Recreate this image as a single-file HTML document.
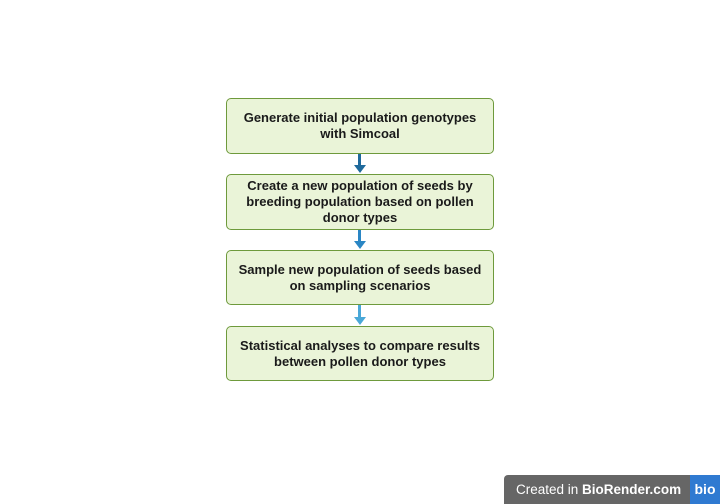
<html><head><style>
body{margin:0;width:720px;height:504px;background:#fff;position:relative;font-family:"Liberation Sans",sans-serif;overflow:hidden}
.b{position:absolute;left:226px;width:268px;background:#eaf4d8;border:1.5px solid #6e9a3c;border-radius:5px;box-sizing:border-box;display:flex;align-items:center;justify-content:center;text-align:center;font-weight:bold;font-size:13px;line-height:16px;color:#1a1a1a;padding:0 8px}
.a{position:absolute;left:358px;width:3px}
.h{position:absolute;left:354px;width:0;height:0;border-left:6px solid transparent;border-right:6px solid transparent;border-top:8px solid}
</style></head><body>
<div class="b" style="top:98px;height:56px">Generate initial population genotypes<br>with Simcoal</div>
<div class="b" style="top:174px;height:56px">Create a new population of seeds by breeding population based on pollen donor types</div>
<div class="b" style="top:250px;height:55px">Sample new population of seeds based<br>on sampling scenarios</div>
<div class="b" style="top:326px;height:55px">Statistical analyses to compare results<br>between pollen donor types</div>
<div class="a" style="top:154px;height:12px;background:#1f6a9c"></div><div class="h" style="top:165px;border-top-color:#1f6a9c"></div>
<div class="a" style="top:230px;height:12px;background:#2a86c4"></div><div class="h" style="top:241px;border-top-color:#2a86c4"></div>
<div class="a" style="top:305px;height:13px;background:#4aa8d8"></div><div class="h" style="top:317px;border-top-color:#4aa8d8"></div>
<div style="position:absolute;left:504px;top:475px;width:186px;height:29px;background:#666;border-radius:4px 0 0 0;color:#fff;font-size:13.5px;line-height:29px;padding-left:12px;box-sizing:border-box;white-space:nowrap">Created in <b>BioRender.com</b></div>
<div style="position:absolute;left:690px;top:475px;width:30px;height:29px;background:#2f7ad1;color:#fff;font-weight:bold;font-size:14px;line-height:29px;text-align:center">bio</div>
</body></html>
